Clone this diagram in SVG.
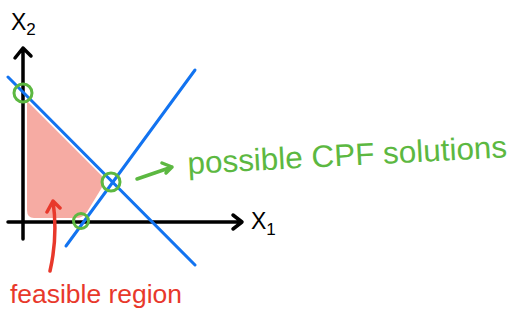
<svg xmlns="http://www.w3.org/2000/svg" width="513" height="329" viewBox="0 0 513 329">
<style>
.ax{fill:none;stroke:#000;stroke-width:3.5;stroke-linecap:round;stroke-linejoin:round}
.bl{fill:none;stroke:#1273f0;stroke-width:3;stroke-linecap:round}
.gc{fill:none;stroke:#5cb841;stroke-width:3}
.gr{fill:none;stroke:#5cb841;stroke-width:3.5;stroke-linecap:round;stroke-linejoin:round}
.rd{fill:none;stroke:#e8382b;stroke-width:3.5;stroke-linecap:round;stroke-linejoin:round}
.lbl{font-family:"Liberation Sans",Arial,sans-serif}
</style>
<rect width="513" height="329" fill="#fff"/>
<g id="feasible-area">
<path d="M27,101 L102,176 L104,184 L87,212 Q83,218 76,218 L34,218 Q27,218 27,210 Z" fill="#f6aba3"/>
</g>
<g id="axes">
<path class="ax" d="M23,239 L23,48 M15,58 L23,48 L31,56"/>
<path class="ax" d="M8,222 L242,222 M233,215 L242,222 L233,229"/>
<text class="lbl" x="11" y="30" font-size="23">X<tspan font-size="17" dy="5">2</tspan></text>
<text class="lbl" x="251" y="229" font-size="23">X<tspan font-size="17" dy="6">1</tspan></text>
</g>
<g id="connectors">
<line class="bl" x1="8" y1="77" x2="195" y2="265"/>
<line class="bl" x1="66" y1="246" x2="195" y2="70"/>
<path class="gr" d="M137,179 L172,167 M162,163 L172,167 L166,173"/>
<path class="rd" d="M50,271 Q58,236 53,201 M47,212 L53,201 L60,208"/>
</g>
<g id="cpf-points">
<circle class="gc" cx="23" cy="93" r="9"/>
<circle class="gc" cx="111" cy="182" r="9"/>
<circle class="gc" cx="81" cy="221" r="7.5"/>
</g>
<g id="cpf-label">
<text class="lbl" x="188" y="174" font-size="31" fill="#5cb841" textLength="320" lengthAdjust="spacingAndGlyphs" transform="rotate(-3 188 174)">possible CPF solutions</text>
</g>
<g id="feasible-label">
<text class="lbl" x="10" y="303" font-size="26" fill="#e8382b" textLength="172" lengthAdjust="spacingAndGlyphs">feasible region</text>
</g>
</svg>
